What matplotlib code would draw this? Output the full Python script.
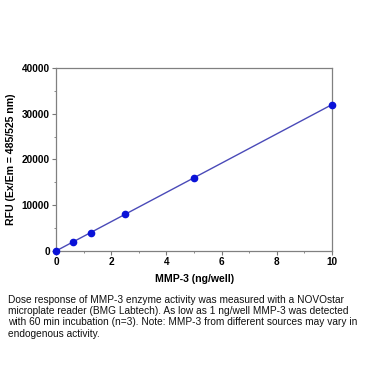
import matplotlib
matplotlib.use("Agg")
import matplotlib.pyplot as plt
from matplotlib.ticker import MultipleLocator

# data
mmp3_ng = [0, 0.625, 1.25, 2.5, 5, 10]
rfu = [0, 2000, 4000, 8000, 16000, 32000]
x_ticks = [0, 2, 4, 6, 8, 10]
y_ticks = [0, 10000, 20000, 30000, 40000]

caption = ("Dose response of MMP-3 enzyme activity was measured with a NOVOstar\n"
           "microplate reader (BMG Labtech). As low as 1 ng/well MMP-3 was detected\n"
           "with 60 min incubation (n=3). Note: MMP-3 from different sources may vary in\n"
           "endogenous activity.")

plt.rcParams['font.family'] = ['Liberation Sans', 'DejaVu Sans']

fig = plt.figure(figsize=(3.69, 3.86), dpi=100)
ax = fig.add_axes([0.152, 0.350, 0.748, 0.474])

# line through points, then markers
ax.plot(mmp3_ng, rfu, color='#4a4ab8', lw=1.0, zorder=2)
ax.plot(mmp3_ng, rfu, 'o', color='#0a12d8', ms=4.5, zorder=3, clip_on=False)

ax.set_xlim(0, 10)
ax.set_ylim(0, 40000)
ax.set_xticks(x_ticks)
ax.set_yticks(y_ticks)
ax.xaxis.set_minor_locator(MultipleLocator(1))
ax.yaxis.set_minor_locator(MultipleLocator(5000))
ax.tick_params(which='both', direction='out', color='#777777', labelsize=7.2,
               top=False, right=False)
ax.tick_params(which='major', length=3, width=0.8, pad=1.5)
ax.tick_params(which='minor', length=1.5, width=0.6)
for lbl in ax.get_xticklabels() + ax.get_yticklabels():
    lbl.set_fontweight('bold')
for sp in ax.spines.values():
    sp.set_color('#808080')
    sp.set_linewidth(0.9)

ax.set_xlabel('MMP-3 (ng/well)', fontsize=7.6, fontweight='bold', labelpad=5)
ax.set_ylabel('RFU (Ex/Em = 485/525 nm)', fontsize=7.6, fontweight='bold', labelpad=4)

fig.text(0.022, 0.236, caption, fontsize=7.3, va='top', ha='left',
         linespacing=1.15, color='#111111')

fig.savefig('out.png', dpi=100)
